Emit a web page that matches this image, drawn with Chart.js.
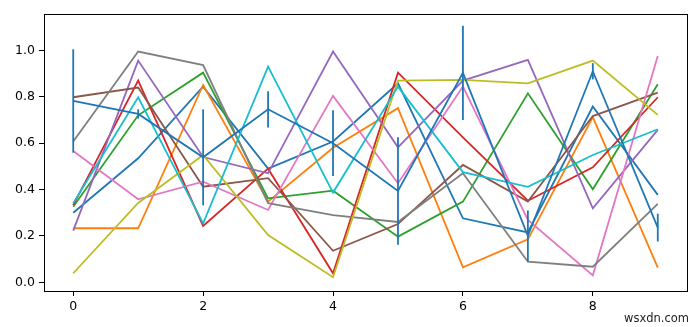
<!DOCTYPE html>
<html>
<head>
<meta charset="utf-8">
<script src="https://cdn.jsdelivr.net/npm/chart.js@4/dist/chart.umd.min.js"></script>
<style>
  html, body { margin: 0; padding: 0; background: #fff; }
  #wrap { width: 700px; height: 327px; }
</style>
</head>
<body>
<div id="wrap"><canvas id="chart" width="700" height="327"></canvas></div>
<script>
// x positions and tick labels
const xs = [0, 1, 2, 3, 4, 5, 6, 7, 8, 9];
const xTicks = [0, 2, 4, 6, 8];
const yTicks = [0.0, 0.2, 0.4, 0.6, 0.8, 1.0];

// plain lines, in matplotlib colour cycle order
const blueVals   = [0.300, 0.535, 0.844, 0.490, 0.607, 0.858, 0.276, 0.215, 0.758, 0.377];
const orangeVals = [0.233, 0.233, 0.851, 0.348, 0.580, 0.751, 0.065, 0.185, 0.712, 0.063];
const greenVals  = [0.326, 0.720, 0.904, 0.362, 0.395, 0.197, 0.348, 0.815, 0.401, 0.854];
const redVals    = [0.333, 0.870, 0.243, 0.490, 0.039, 0.904, 0.625, 0.352, 0.496, 0.798];
const purpleVals = [0.223, 0.956, 0.540, 0.470, 0.995, 0.582, 0.870, 0.959, 0.319, 0.657];
const brownVals  = [0.798, 0.840, 0.412, 0.449, 0.136, 0.251, 0.506, 0.348, 0.717, 0.818];
const pinkVals   = [0.566, 0.358, 0.434, 0.312, 0.804, 0.427, 0.844, 0.269, 0.030, 0.976];
const grayVals   = [0.607, 0.995, 0.937, 0.341, 0.290, 0.260, 0.470, 0.089, 0.067, 0.338];
const oliveVals  = [0.039, 0.342, 0.549, 0.204, 0.022, 0.870, 0.873, 0.858, 0.956, 0.722];
const cyanVals   = [0.341, 0.798, 0.254, 0.930, 0.387, 0.844, 0.475, 0.412, 0.549, 0.660];

// errorbar series (drawn last, on top)
const errVals = [0.782, 0.726, 0.539, 0.746, 0.600, 0.394, 0.903, 0.200, 0.910, 0.236];
const errSize = [0.223, 0.020, 0.207, 0.078, 0.142, 0.232, 0.203, 0.110, 0.035, 0.060];

const colors = ['#1f77b4', '#ff7f0e', '#2ca02c', '#d62728', '#9467bd',
                '#8c564b', '#e377c2', '#7f7f7f', '#bcbd22', '#17becf', '#1f77b4'];
const allSeries = [blueVals, orangeVals, greenVals, redVals, purpleVals,
                   brownVals, pinkVals, grayVals, oliveVals, cyanVals, errVals];

const datasets = allSeries.map((vals, i) => ({
  data: vals.map((v, j) => ({ x: xs[j], y: v })),
  borderColor: colors[i],
  borderWidth: 1.8,
  pointRadius: 0,
  tension: 0,
  fill: false,
  order: -i, // later series on top, like matplotlib
}));

// vertical error bars on the last series
const errorBars = {
  id: 'errorBars',
  afterDatasetsDraw(chart) {
    const { ctx, scales: { x, y } } = chart;
    ctx.save();
    ctx.strokeStyle = colors[10];
    ctx.lineWidth = 1.8;
    xs.forEach((xv, i) => {
      const px = x.getPixelForValue(xv);
      ctx.beginPath();
      ctx.moveTo(px, y.getPixelForValue(errVals[i] - errSize[i]));
      ctx.lineTo(px, y.getPixelForValue(errVals[i] + errSize[i]));
      ctx.stroke();
    });
    ctx.restore();
  }
};

// box around the axes plus the watermark
const frame = {
  id: 'frame',
  afterDraw(chart) {
    const { ctx, chartArea: a } = chart;
    ctx.save();
    ctx.strokeStyle = '#000';
    ctx.lineWidth = 1;
    ctx.strokeRect(Math.round(a.left) + 0.5, Math.round(a.top) + 0.5,
                   Math.round(a.right - a.left), Math.round(a.bottom - a.top));
    ctx.fillStyle = '#222';
    ctx.font = '11.5px "DejaVu Sans"';
    ctx.textAlign = 'right';
    ctx.textBaseline = 'alphabetic';
    ctx.fillText('wsxdn.com', 689, 322);
    ctx.restore();
  }
};

new Chart(document.getElementById('chart').getContext('2d'), {
  type: 'line',
  data: { datasets },
  plugins: [errorBars, frame],
  options: {
    responsive: false,
    animation: false,
    layout: { padding: { top: 14, right: 13, left: 0, bottom: 0 } },
    plugins: { legend: { display: false }, tooltip: { enabled: false } },
    scales: {
      x: {
        type: 'linear',
        min: -0.45,
        max: 9.45,
        afterBuildTicks: (s) => { s.ticks = xTicks.map(v => ({ value: v })); },
        afterFit: (s) => { s.height = 36; },
        grid: { display: true, drawOnChartArea: false, drawTicks: true, tickLength: 5, color: '#000' },
        border: { display: true, color: '#000', width: 1 },
        ticks: { color: '#000', font: { family: 'DejaVu Sans', size: 12.5 }, padding: 3, maxRotation: 0 },
      },
      y: {
        min: -0.0375,
        max: 1.157,
        afterBuildTicks: (s) => { s.ticks = yTicks.map(v => ({ value: v })); },
        afterFit: (s) => { s.width = 44; },
        grid: { display: true, drawOnChartArea: false, drawTicks: true, tickLength: 5, color: '#000' },
        border: { display: true, color: '#000', width: 1 },
        ticks: {
          color: '#000',
          font: { family: 'DejaVu Sans', size: 12.5 },
          padding: 4,
          callback: (v) => Number(v).toFixed(1),
        },
      },
    },
  },
});
</script>
</body>
</html>
